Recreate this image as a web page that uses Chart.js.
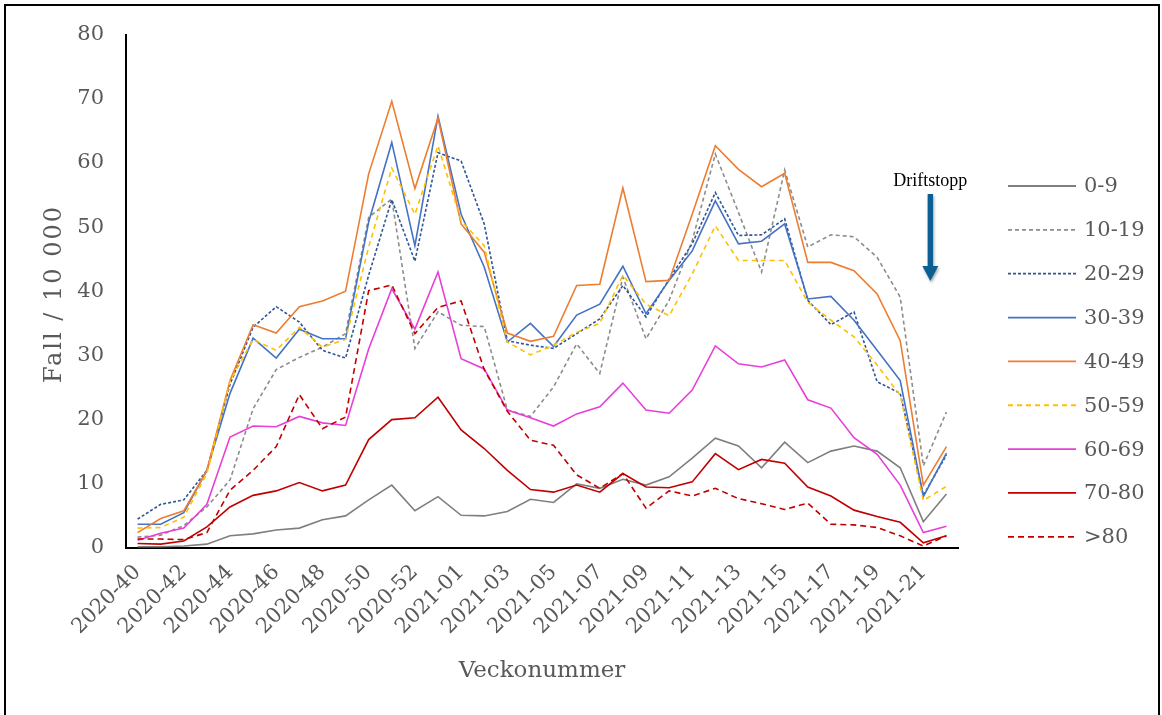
<!DOCTYPE html>
<html>
<head>
    <meta charset="UTF-8">
    <title>Fall per vecka</title>
    <script src="https://cdn.jsdelivr.net/npm/chart.js@4.4.1/dist/chart.umd.min.js"></script>
    <style>
        body { margin: 0; background: #fff; }
    </style>
</head>
<body>
    <canvas id="myChart" width="1162" height="715"></canvas>
    <script>

        var weeks = ['2020-40', '2020-41', '2020-42', '2020-43', '2020-44', '2020-45', '2020-46', '2020-47', '2020-48', '2020-49',
            '2020-50', '2020-51', '2020-52', '2020-53', '2021-01', '2021-02', '2021-03', '2021-04', '2021-05', '2021-06',
            '2021-07', '2021-08', '2021-09', '2021-10', '2021-11', '2021-12', '2021-13', '2021-14', '2021-15', '2021-16',
            '2021-17', '2021-18', '2021-19', '2021-20', '2021-21', '2021-22'];

        var age0_9 = [0.2, 0.2, 0.3, 0.6, 1.9, 2.2, 2.8, 3.1, 4.4, 5.0, 7.5, 9.8, 5.8, 8.0, 5.1, 5.0, 5.7, 7.6,
            7.1, 10.0, 9.3, 10.7, 9.8, 11.1, 14.0, 17.1, 15.9, 12.5, 16.5, 13.3, 15.1, 15.9, 15.1, 12.5, 4.1, 8.4];
        var age10_19 = [1.7, 2.0, 3.5, 6.4, 10.6, 21.7, 27.8, 29.7, 31.3, 33.4, 51.5, 54.4, 31.1, 36.8, 34.7, 34.5, 21.5, 20.5,
            25.1, 31.8, 27.2, 42.2, 32.6, 38.6, 47.9, 61.4, 52.3, 43.0, 58.9, 46.9, 48.8, 48.5, 45.3, 39.1, 12.8, 21.2];
        var age20_29 = [4.5, 6.8, 7.5, 12.1, 25.5, 34.4, 37.6, 35.2, 30.8, 29.6, 42.5, 54.3, 44.7, 61.6, 60.3, 50.5, 32.3, 31.6,
            31.1, 33.4, 35.7, 40.9, 36.0, 41.9, 47.4, 55.4, 48.7, 48.8, 51.3, 38.6, 34.8, 36.8, 25.9, 24.1, 8.2, 14.5];
        var age30_39 = [3.7, 3.7, 5.5, 12.1, 24.1, 32.7, 29.6, 34.1, 32.6, 32.6, 50.8, 63.2, 47.1, 67.3, 52.0, 43.8, 32.1, 35.0,
            31.4, 36.3, 38.0, 43.9, 36.5, 41.7, 46.3, 54.1, 47.4, 47.8, 50.5, 38.8, 39.2, 35.5, 30.8, 26.1, 8.0, 14.8];
        var age40_49 = [2.4, 4.6, 5.8, 12.1, 26.1, 34.8, 33.5, 37.6, 38.5, 40.0, 58.3, 69.6, 56.0, 67.0, 50.5, 46.1, 33.5, 32.2,
            33.0, 40.9, 41.1, 56.1, 41.5, 41.7, 52.0, 62.7, 59.0, 56.3, 58.4, 44.5, 44.5, 43.2, 39.6, 32.3, 9.8, 15.8];
        var age50_59 = [3.1, 3.2, 4.8, 11.6, 26.0, 32.5, 30.8, 34.4, 31.3, 32.5, 46.9, 59.2, 52.0, 62.7, 51.0, 47.1, 32.1, 30.1,
            31.6, 33.6, 35.0, 42.5, 38.0, 36.2, 42.7, 50.2, 44.8, 44.8, 44.8, 38.3, 35.5, 32.9, 28.5, 23.8, 7.4, 9.6];
        var age60_69 = [1.2, 2.3, 3.1, 6.8, 17.3, 19.0, 18.9, 20.5, 19.5, 19.1, 31.0, 40.4, 34.1, 43.0, 29.5, 27.9, 21.5, 20.3,
            19.0, 20.9, 22.0, 25.7, 21.5, 21.0, 24.6, 31.5, 28.7, 28.2, 29.3, 23.1, 21.8, 17.2, 14.6, 9.8, 2.4, 3.4];
        var age70_80 = [0.7, 0.6, 1.1, 3.3, 6.4, 8.2, 8.9, 10.2, 8.9, 9.8, 16.9, 20.0, 20.3, 23.5, 18.4, 15.5, 12.1, 9.1,
            8.7, 9.8, 8.7, 11.6, 9.5, 9.4, 10.3, 14.7, 12.2, 13.8, 13.2, 9.5, 8.1, 5.9, 4.9, 4.0, 0.8, 1.9];
        var age80plus = [1.4, 1.4, 1.3, 2.4, 9.0, 12.1, 15.8, 23.9, 18.6, 20.4, 40.1, 41.0, 33.4, 37.5, 38.5, 27.8, 21.3, 16.8,
            16.0, 11.4, 9.3, 11.6, 6.2, 8.9, 8.1, 9.3, 7.7, 6.9, 6.0, 7.0, 3.7, 3.6, 3.2, 1.9, 0.3, 1.9];

        var groupNames = ['0-9', '10-19', '20-29', '30-39', '40-49', '50-59', '60-69', '70-80', '>80'];
        var groupValues = [age0_9, age10_19, age20_29, age30_39, age40_49, age50_59, age60_69, age70_80, age80plus];
        var groupColors = ['#7f7f7f', '#8c8c8c', '#2f5597', '#4472c4', '#ed7d31', '#ffc000', '#e83fd8', '#c00000', '#c00000'];
        var groupDashes = [[], [4, 3], [3, 2], [], [], [5, 4], [], [], [6, 4]];

        var yTicks = [0, 10, 20, 30, 40, 50, 60, 70, 80];
        var stopWeek = '2021-21';

        var textGray = '#595959';
        var tickFont = { family: 'DejaVu Serif', size: 21 };

        var datasets = groupNames.map(function (name, i) {
            return {
                label: name,
                data: groupValues[i],
                borderColor: groupColors[i],
                backgroundColor: groupColors[i],
                borderDash: groupDashes[i],
                borderWidth: 1.6,
                pointRadius: 0,
                tension: 0,
                fill: false,
                order: groupNames.length - i
            };
        });

        // frame, axis titles, legend and the "Driftstopp" arrow
        var extras = {
            id: 'extras',
            afterDraw: function (chart) {
                var ctx = chart.ctx;
                var area = chart.chartArea;
                ctx.save();

                ctx.strokeStyle = '#000';
                ctx.lineWidth = 2;
                ctx.strokeRect(5, 5, 1154, 730);

                ctx.fillStyle = textGray;
                ctx.font = '23px "DejaVu Serif"';
                ctx.textAlign = 'center';
                ctx.textBaseline = 'middle';
                ctx.fillText('Veckonummer', (area.left + area.right) / 2, 671);
                ctx.save();
                ctx.translate(55, 294);
                ctx.rotate(-Math.PI / 2);
                ctx.font = '24px "DejaVu Serif"';
                ctx.letterSpacing = '2px';
                ctx.fillText('Fall / 10 000', 0, 0);
                ctx.restore();

                // legend
                ctx.font = '21px "DejaVu Serif"';
                ctx.textAlign = 'left';
                chart.data.datasets.forEach(function (ds, i) {
                    var y = 186 + i * 43.85;
                    ctx.strokeStyle = ds.borderColor;
                    ctx.lineWidth = 1.8;
                    ctx.setLineDash(ds.borderDash);
                    ctx.beginPath();
                    ctx.moveTo(1008, y);
                    ctx.lineTo(1076, y);
                    ctx.stroke();
                    ctx.setLineDash([]);
                    ctx.fillStyle = textGray;
                    ctx.fillText(ds.label, 1084, y + 1);
                });

                // annotation
                var x = chart.scales.x.getPixelForValue(weeks.indexOf(stopWeek)) + 7;
                ctx.fillStyle = '#000';
                ctx.font = '18px "Liberation Serif"';
                ctx.textAlign = 'center';
                ctx.textBaseline = 'alphabetic';
                ctx.fillText('Driftstopp', x, 186);

                ctx.shadowColor = 'rgba(0,0,0,0.35)';
                ctx.shadowBlur = 3;
                ctx.shadowOffsetX = 1;
                ctx.shadowOffsetY = 2;
                ctx.fillStyle = '#0b5f92';
                ctx.fillRect(x - 2.7, 194, 5.4, 73);
                ctx.beginPath();
                ctx.moveTo(x - 8, 266);
                ctx.lineTo(x + 8, 266);
                ctx.lineTo(x, 281);
                ctx.closePath();
                ctx.fill();

                ctx.restore();
            }
        };

        var config = {
            type: 'line',
            data: {
                labels: weeks,
                datasets: datasets
            },
            options: {
                responsive: false,
                animation: false,
                devicePixelRatio: 1,
                layout: {
                    padding: { left: 0, top: 34, right: 204, bottom: 0 }
                },
                plugins: {
                    legend: { display: false },
                    tooltip: { enabled: false }
                },
                scales: {
                    x: {
                        type: 'category',
                        offset: true,
                        grid: { display: false, drawTicks: false },
                        border: { display: true, color: '#000', width: 2 },
                        ticks: {
                            autoSkip: false,
                            maxRotation: 45,
                            minRotation: 45,
                            padding: 12,
                            color: textGray,
                            font: tickFont,
                            callback: function (value, index) {
                                return index % 2 === 0 ? weeks[index] : '';
                            }
                        },
                        afterFit: function (scale) { scale.height = 167; }
                    },
                    y: {
                        min: 0,
                        max: 80,
                        grid: { display: false, drawTicks: false },
                        border: { display: true, color: '#000', width: 2 },
                        afterBuildTicks: function (scale) {
                            scale.ticks = yTicks.map(function (v) { return { value: v }; });
                        },
                        ticks: {
                            padding: 22,
                            color: textGray,
                            font: tickFont
                        },
                        afterFit: function (scale) { scale.width = 126; }
                    }
                }
            },
            plugins: [extras]
        };

        var myChart = new Chart(document.getElementById('myChart'), config);

    </script>
</body>
</html>
